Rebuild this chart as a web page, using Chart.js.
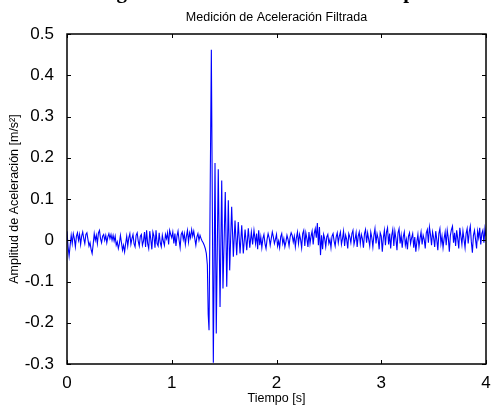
<!DOCTYPE html>
<html>
<head>
<meta charset="utf-8">
<script src="https://cdn.jsdelivr.net/npm/chart.js@4.4.0/dist/chart.umd.min.js"></script>
<style>
html, body { margin: 0; padding: 0; background: #fff; }
#chart { display: block; }
</style>
</head>
<body>
<canvas id="chart" width="492" height="406"></canvas>
<script>
// muestreo uniforme antes y después del pulso
const pasoMuestreo = 0.01;
const inicioFinal = 1.80;

// 0.00 s .. 1.33 s
const senalInicio = [
    0.022, -0.015, -0.038, -0.012, 0.012, -0.008, 0.016, 0.004, -0.016, 0.010,
    0.018, 0.000, 0.014, -0.010, 0.010, 0.020, 0.004, -0.008, 0.014, 0.018,
    0.002, -0.014, -0.006, -0.022, -0.032, -0.010, 0.016, 0.000, 0.012, -0.008,
    0.018, 0.024, 0.004, -0.006, 0.010, 0.014, 0.000, 0.012, -0.006, 0.008,
    0.016, 0.004, 0.014, 0.000, 0.012, -0.002, 0.010, -0.012, -0.004, -0.020,
    -0.008, 0.012, -0.006, -0.024, -0.012, -0.028, -0.008, 0.010, -0.014, 0.006,
    0.016, -0.010, 0.004, 0.014, -0.008, -0.016, 0.012, 0.018, -0.002, -0.014,
    0.010, 0.014, -0.012, -0.002, 0.020, -0.016, 0.024, -0.008, -0.020, 0.022,
    0.002, -0.022, 0.020, 0.010, -0.018, 0.024, -0.008, -0.014, 0.018, -0.006,
    -0.016, 0.012, -0.002, -0.012, 0.014, 0.004, 0.018, -0.010, 0.024, 0.014,
    0.006, 0.020, -0.008, 0.016, -0.014, 0.010, 0.022, 0.000, -0.018, 0.014,
    0.020, 0.002, 0.016, -0.010, 0.010, 0.024, -0.004, 0.018, 0.006, 0.026,
    0.010, 0.022, 0.004, -0.012, 0.008, 0.016, 0.000, 0.012, 0.004, -0.002,
    -0.006, -0.012, -0.020, -0.032
];

// pulso: picos y valles
const rafagaTiempos = [
    1.340, 1.348, 1.356, 1.378, 1.397, 1.413, 1.425, 1.444, 1.461, 1.477,
    1.489, 1.511, 1.525, 1.540, 1.553, 1.572, 1.588, 1.604, 1.620, 1.635,
    1.652, 1.668, 1.683, 1.700, 1.716, 1.731, 1.745, 1.760, 1.772, 1.785
];
const rafagaValores = [
    -0.060, -0.180, -0.218, 0.462, -0.297, 0.187, -0.226, 0.172, -0.162, 0.145,
    -0.117, 0.117, -0.113, 0.097, -0.073, 0.081, -0.040, 0.048, -0.036, 0.044,
    -0.032, 0.036, -0.032, 0.026, -0.024, 0.029, -0.018, 0.020, -0.010, 0.024
];

// 1.80 s .. 4.00 s
const senalFinal = [
    -0.008, 0.016, -0.022, 0.024, -0.012, 0.008, -0.018, 0.004, 0.014, -0.008,
    -0.020, 0.002, 0.016, 0.006, -0.012, 0.004, 0.020, 0.008, -0.008, 0.002,
    0.014, -0.014, -0.002, -0.018, 0.008, 0.016, -0.008, 0.004, -0.016, -0.004,
    0.012, 0.002, -0.014, 0.008, 0.018, 0.012, -0.004, 0.010, -0.016, 0.006,
    0.020, -0.008, 0.014, 0.002, -0.018, 0.016, 0.024, -0.014, 0.018, 0.004,
    -0.016, 0.020, -0.008, 0.010, 0.022, -0.010, 0.016, 0.028, 0.006, 0.042,
    -0.012, 0.032, -0.036, 0.012, -0.022, 0.014, 0.004, -0.016, 0.008, 0.014,
    -0.008, 0.002, -0.018, 0.010, 0.016, -0.002, -0.014, 0.008, 0.018, -0.006,
    0.010, 0.020, -0.010, 0.004, 0.022, -0.014, 0.012, 0.002, -0.020, 0.016,
    0.008, -0.006, 0.016, 0.024, -0.010, 0.002, 0.018, -0.016, 0.010, 0.020,
    -0.008, 0.014, 0.004, -0.018, 0.016, 0.026, -0.006, 0.018, 0.002, -0.014,
    0.020, 0.006, -0.016, 0.012, 0.028, -0.008, 0.016, 0.004, -0.022, 0.018,
    0.010, -0.028, 0.006, 0.024, -0.012, 0.020, 0.030, -0.010, 0.016, -0.020,
    0.012, 0.026, -0.014, 0.022, 0.004, -0.024, 0.018, 0.028, -0.008, 0.012,
    -0.018, 0.008, 0.020, -0.012, 0.002, -0.022, 0.010, 0.018, -0.008, 0.006,
    0.016, -0.018, 0.008, -0.028, -0.004, 0.014, -0.016, 0.004, 0.020, -0.010,
    0.012, 0.002, -0.020, 0.018, 0.026, -0.006, 0.032, 0.014, -0.012, 0.020,
    0.006, -0.016, 0.022, 0.002, -0.024, 0.016, 0.028, -0.008, 0.010, -0.018,
    0.004, 0.020, -0.012, 0.024, 0.006, -0.028, 0.012, 0.026, 0.034, -0.006,
    0.018, -0.014, 0.024, 0.004, -0.020, 0.030, 0.010, -0.010, 0.022, 0.002,
    -0.018, 0.016, 0.028, -0.008, 0.020, 0.034, -0.004, -0.030, 0.012, 0.024,
    0.002, -0.020, 0.022, 0.006, 0.030, -0.010, 0.016, 0.024, -0.006, 0.028,
    0.010
];

const ticksX = [0, 1, 2, 3, 4];
const ticksY = [-0.3, -0.2, -0.1, 0, 0.1, 0.2, 0.3, 0.4, 0.5];

const tituloSuperior = "Registro de Aceleración en el Tiempo";
const tituloGrafico = "Medición de Aceleración Filtrada";
const etiquetaX = "Tiempo [s]";
const etiquetaY = "Amplitud de Aceleración [m/s²]";

const puntos = [];
senalInicio.forEach((v, i) => puntos.push({ x: +(i * pasoMuestreo).toFixed(3), y: v }));
rafagaTiempos.forEach((t, i) => puntos.push({ x: t, y: rafagaValores[i] }));
senalFinal.forEach((v, i) => puntos.push({ x: +(inicioFinal + i * pasoMuestreo).toFixed(3), y: v }));

// marco y marcas hacia adentro, estilo matlab
const marcoMatlab = {
    id: "marcoMatlab",
    afterDatasetsDraw(chart) {
        const { ctx, chartArea: a } = chart;
        const ejeX = chart.scales.x;
        const ejeY = chart.scales.y;
        ctx.save();
        ctx.strokeStyle = "#000";
        ctx.lineWidth = 1;
        ctx.beginPath();
        ticksX.forEach(v => {
            const px = Math.round(ejeX.getPixelForValue(v)) + 0.5;
            ctx.moveTo(px, a.bottom); ctx.lineTo(px, a.bottom - 4);
            ctx.moveTo(px, a.top); ctx.lineTo(px, a.top + 4);
        });
        ticksY.forEach(v => {
            const py = Math.round(ejeY.getPixelForValue(v)) + 0.5;
            ctx.moveTo(a.left, py); ctx.lineTo(a.left + 4, py);
            ctx.moveTo(a.right, py); ctx.lineTo(a.right - 4, py);
        });
        ctx.stroke();
        ctx.lineWidth = 1.5;
        ctx.strokeRect(a.left, a.top, a.width, a.height);

        // titulos (el superior queda cortado por el borde, como en la figura)
        ctx.fillStyle = "#000";
        ctx.textAlign = "left";
        ctx.textBaseline = "alphabetic";
        ctx.font = "bold 21px 'Liberation Serif', 'Times New Roman', serif";
        ctx.fillText(tituloSuperior, 92, -2);
        ctx.textAlign = "center";
        ctx.textBaseline = "middle";
        ctx.font = "12.5px 'Liberation Sans', Arial, sans-serif";
        ctx.fillText(tituloGrafico, (a.left + a.right) / 2, 18);
        ctx.restore();
    }
};

Chart.defaults.font.family = "'Liberation Sans', Arial, sans-serif";
Chart.defaults.color = "#000";

new Chart(document.getElementById("chart").getContext("2d"), {
    type: "line",
    data: {
        datasets: [{
            data: puntos,
            borderColor: "#0000ff",
            borderWidth: 1.1,
            pointRadius: 0,
            tension: 0,
            fill: false
        }]
    },
    options: {
        responsive: false,
        animation: false,
        layout: { padding: { top: 34, right: 6, left: 0, bottom: 0 } },
        plugins: { legend: { display: false }, tooltip: { enabled: false } },
        scales: {
            x: {
                type: "linear",
                min: 0,
                max: 4,
                grid: { display: false },
                border: { display: false },
                ticks: {
                    stepSize: 1,
                    padding: 1,
                    font: { size: 17 },
                    maxRotation: 0,
                    callback: v => String(v)
                },
                title: { display: true, text: etiquetaX, font: { size: 12.5 }, padding: { top: 1, bottom: 0 } },
                afterFit: s => { s.height = 42; }
            },
            y: {
                min: -0.3,
                max: 0.5,
                grid: { display: false },
                border: { display: false },
                ticks: {
                    stepSize: 0.1,
                    padding: 5,
                    font: { size: 17 },
                    callback: v => String(Number(v.toFixed(1)))
                },
                title: { display: true, text: etiquetaY, font: { size: 12.5 }, padding: { top: 7, bottom: 0 } },
                afterFit: s => { s.width = 67; }
            }
        }
    },
    plugins: [marcoMatlab]
});
</script>
</body>
</html>
